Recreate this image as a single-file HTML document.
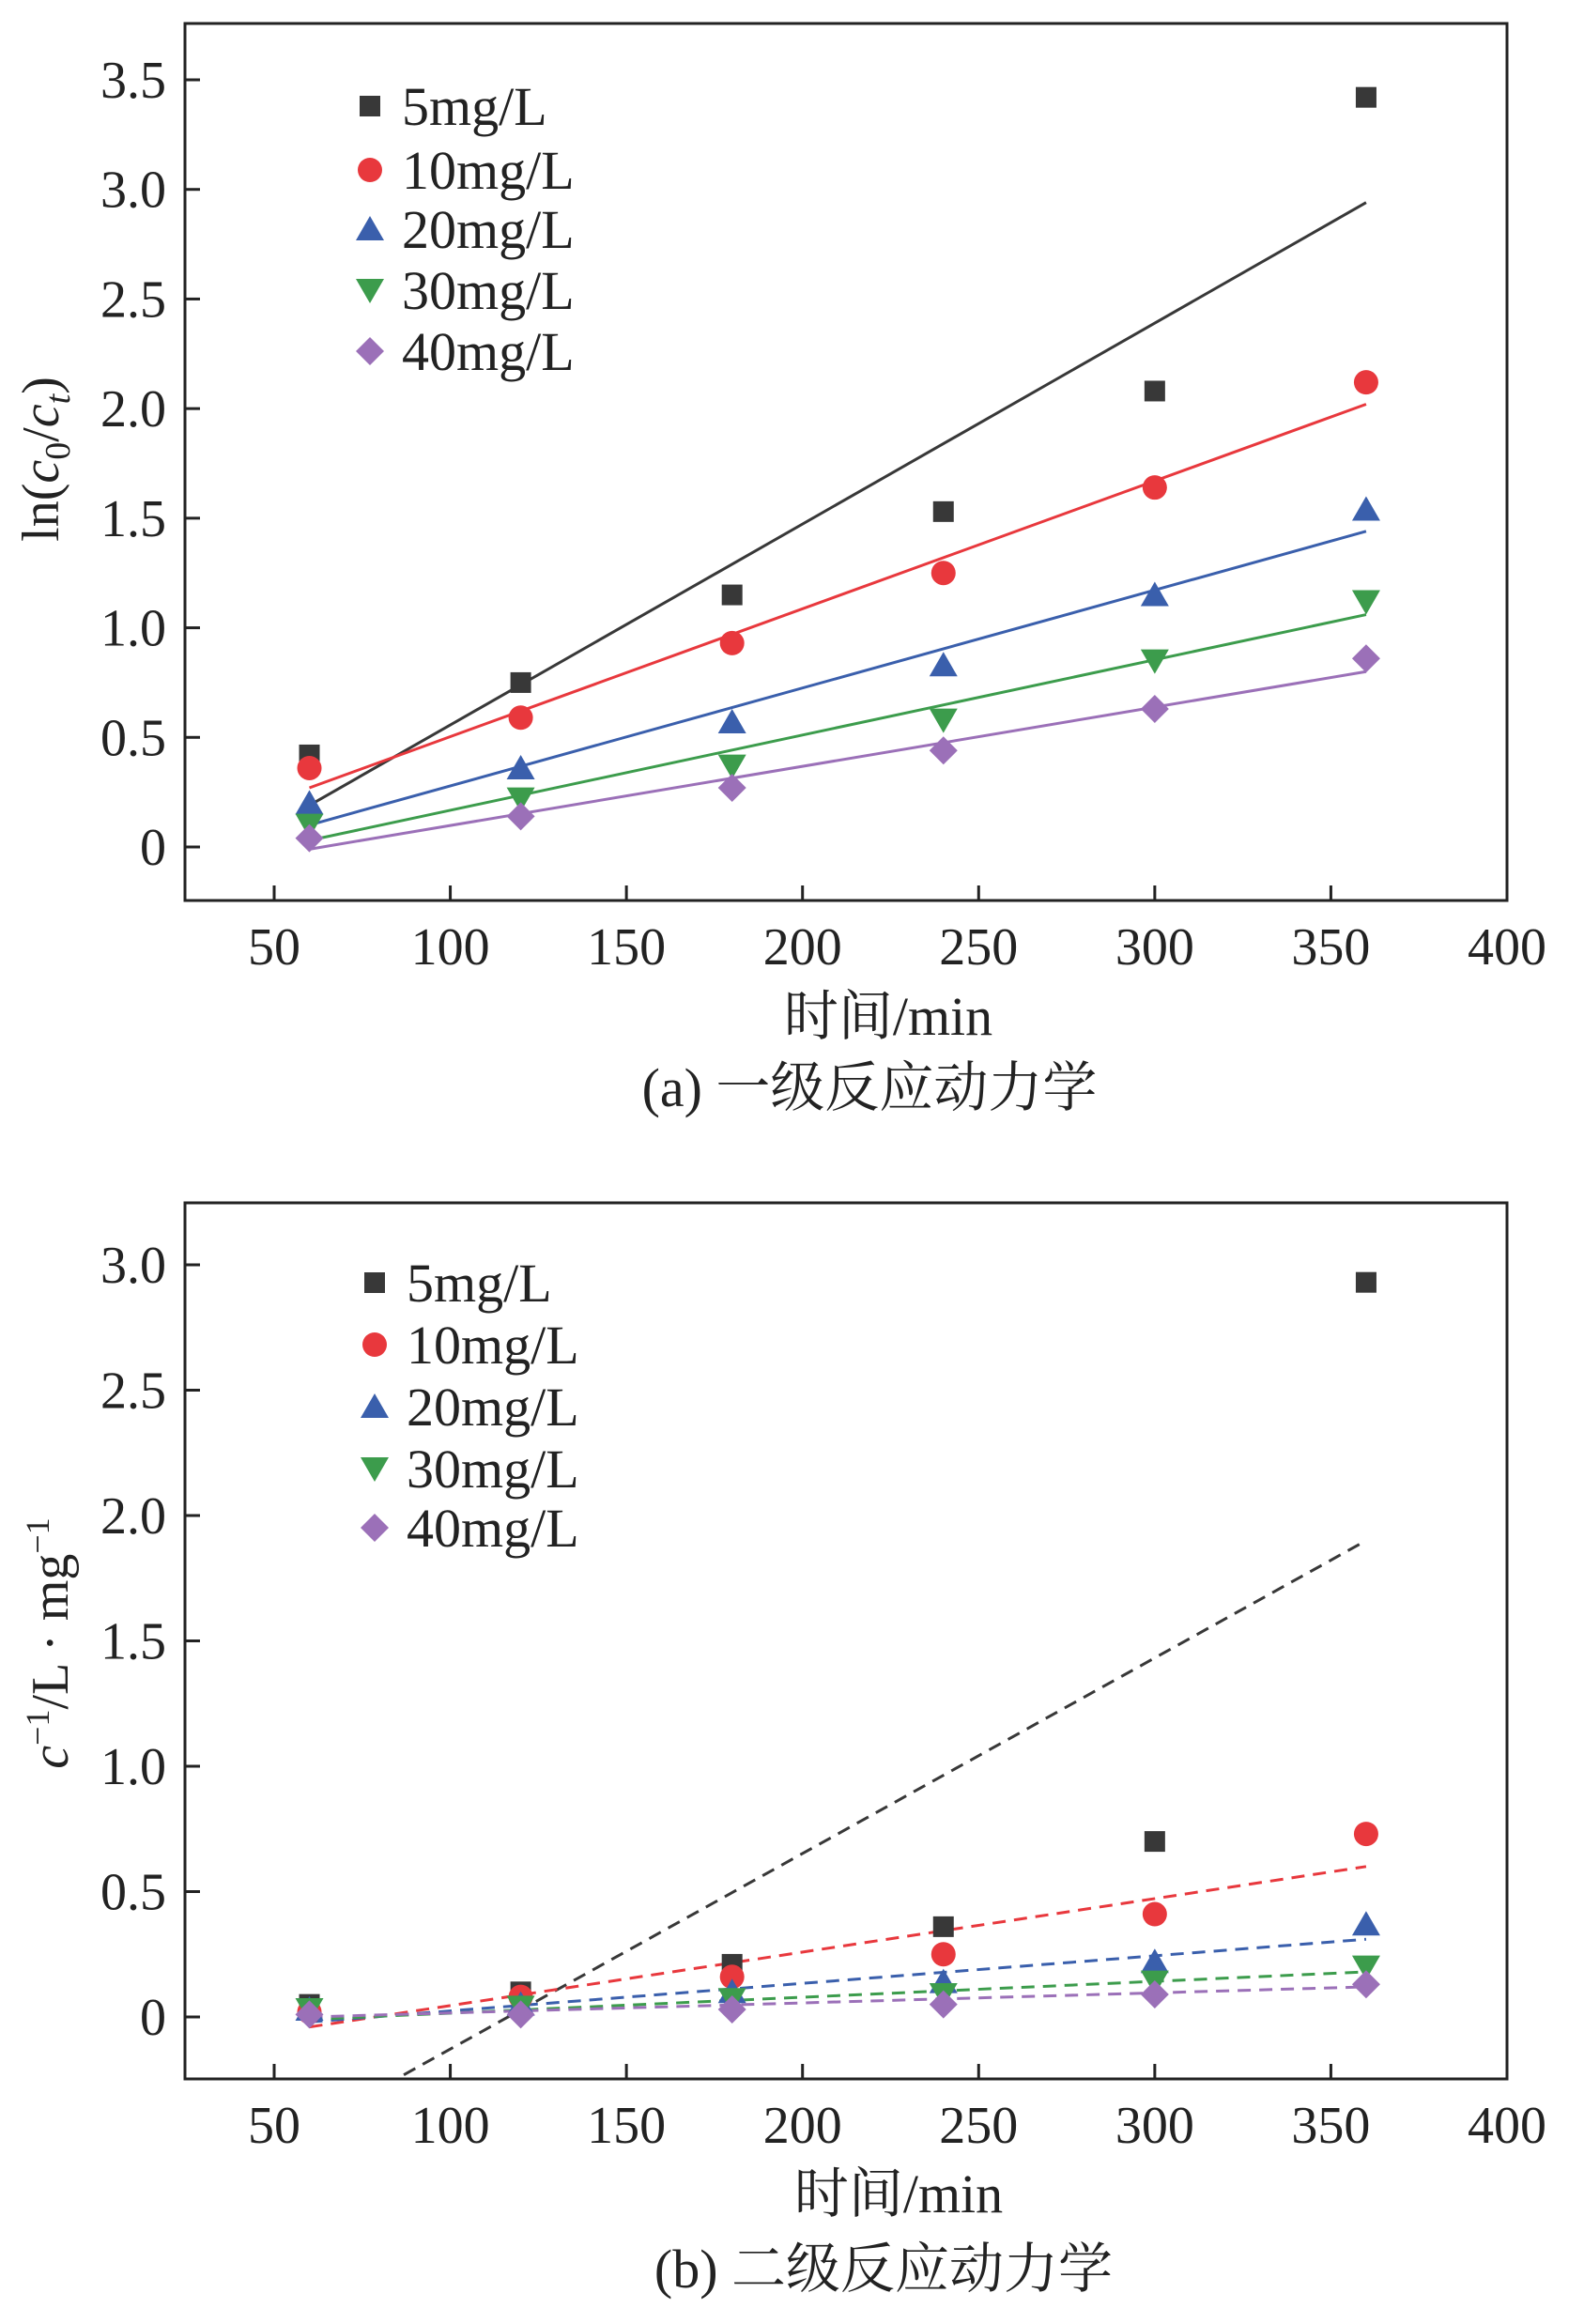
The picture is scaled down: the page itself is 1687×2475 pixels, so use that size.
<!DOCTYPE html>
<html><head><meta charset="utf-8"><style>
html,body{margin:0;padding:0;background:#fff;}
svg{display:block;font-family:"Liberation Serif","Noto Serif CJK SC",serif;}
</style></head><body>
<svg id="fig" width="1687" height="2475" viewBox="0 0 1687 2475" xmlns="http://www.w3.org/2000/svg"></svg>
<script>
const xTicks=[50,100,150,200,250,300,350,400];
const times=[60,120,180,240,300,360];
const seriesNames=["5mg/L","10mg/L","20mg/L","30mg/L","40mg/L"];
const colors=["#383838","#e8383d","#3a5fac","#3c9c4c","#9b70b8"];
const shapes=["square","circle","tri","tridown","diamond"];
// panel a
const aS5=[0.42,0.75,1.15,1.53,2.08,3.42];
const aS10=[0.36,0.59,0.93,1.25,1.64,2.12];
const aS20=[0.20,0.36,0.57,0.83,1.15,1.54];
const aS30=[0.10,0.22,0.37,0.58,0.85,1.12];
const aS40=[0.04,0.14,0.27,0.44,0.63,0.86];
const aFitStart=[0.19,0.27,0.10,0.03,-0.01];
const aFitEnd=[2.94,2.02,1.44,1.06,0.80];
const aYTicks=[0,0.5,1.0,1.5,2.0,2.5,3.0,3.5];
const aYLabels=["0","0.5","1.0","1.5","2.0","2.5","3.0","3.5"];
// panel b
const bS5=[0.05,0.10,0.21,0.36,0.70,2.93];
const bS10=[0.02,0.08,0.16,0.25,0.41,0.73];
const bS20=[0.03,0.05,0.10,0.14,0.22,0.37];
const bS30=[0.03,0.04,0.07,0.09,0.14,0.20];
const bS40=[0.01,0.01,0.03,0.05,0.09,0.13];
const bFitStart=[-0.44,-0.04,-0.02,-0.01,0.00];
const bFitEnd=[1.90,0.60,0.31,0.18,0.12];
const bYTicks=[0,0.5,1.0,1.5,2.0,2.5,3.0];
const bYLabels=["0","0.5","1.0","1.5","2.0","2.5","3.0"];

const NS="http://www.w3.org/2000/svg";
const svg=document.getElementById('fig');
function mk(tag,attrs,parent){const e=document.createElementNS(NS,tag);for(const k in attrs)e.setAttribute(k,attrs[k]);(parent||svg).appendChild(e);return e;}

function marker(g,shape,cx,cy,color){
  let e;
  if(shape==="square") e=mk('rect',{x:cx-11,y:cy-11,width:22,height:22,fill:color},g);
  else if(shape==="circle") e=mk('circle',{cx:cx,cy:cy,r:13,fill:color},g);
  else if(shape==="tri") e=mk('polygon',{points:`${cx},${cy-14} ${cx+15},${cy+12} ${cx-15},${cy+12}`,fill:color},g);
  else if(shape==="tridown") e=mk('polygon',{points:`${cx},${cy+14} ${cx+15},${cy-12} ${cx-15},${cy-12}`,fill:color},g);
  else e=mk('polygon',{points:`${cx},${cy-15} ${cx+15},${cy} ${cx},${cy+15} ${cx-15},${cy}`,fill:color},g);
  return e;
}

function panel(o){
  const g=mk('g',{});
  
  
  const L=197,R=1605,T=o.top,B=o.bottom;
  const xs=v=>L+(v-30)/(400-30)*(R-L)*1+0; // placeholder replaced below
  const X=v=>292+(v-50)*(1605-292)/350;
  const Y=v=>o.y0+(o.y1-o.y0)*(v/o.ymaxTick);
  const clipId='clip'+o.id;
  const cp=mk('clipPath',{id:clipId},g);
  mk('rect',{x:L,y:T,width:R-L,height:B-T},cp);
  // ticks
  xTicks.forEach(t=>{
    const tk=mk('line',{x1:X(t),x2:X(t),y1:B,y2:B-16,stroke:'#222','stroke-width':3},g);
    
    
    const tl=mk('text',{x:X(t),y:o.xLabY,'font-size':56,'text-anchor':'middle',fill:'#222'},g);
    tl.textContent=t;
    
    
  });
  o.yTicks.forEach((t,i)=>{
    mk('line',{x1:L,x2:L+16,y1:Y(t),y2:Y(t),stroke:'#222','stroke-width':3},g);
    const tl=mk('text',{x:177,y:Y(t)+19,'font-size':56,'text-anchor':'end',fill:'#222'},g);
    tl.textContent=o.yLabels[i];
    
    
  });
  // fit lines
  o.series.forEach((s,i)=>{
    const ln=mk('line',{x1:X(times[0]),y1:Y(o.fs[i]),x2:X(times[times.length-1]),y2:Y(o.fe[i]),stroke:colors[i],'stroke-width':3,'clip-path':`url(#${clipId})`},g);
    if(o.dashed) ln.setAttribute('stroke-dasharray','14 9');
    
    
  });
  // markers
  o.series.forEach((s,i)=>{
    s.forEach((v,j)=>{
      const m=marker(g,shapes[i],X(times[j]),Y(v),colors[i]);
      
      
    });
  });
  // frame
  const fr=mk('rect',{x:L,y:T,width:R-L,height:B-T,fill:'none',stroke:'#222','stroke-width':3},g);
  
  
  // legend
  seriesNames.forEach((n,i)=>{
    const ly=o.legY[i];
    const m=marker(g,shapes[i],o.legX,ly,colors[i]);
    
    
    const t=mk('text',{x:o.legX+34,y:ly+20,'font-size':58,fill:'#222'},g);
    t.textContent=n;
    
    
  });
  const xl=mk('text',{x:o.xTitleX,y:o.xTitleY,'font-size':58,'text-anchor':'middle',fill:'#222'},g);
  xl.textContent='时间/min';
  
  
  const cap=mk('text',{x:o.capX,y:o.capY,'font-size':58,'text-anchor':'middle',fill:'#222'},g);
  cap.textContent=o.caption;
  
  
  const yt=mk('text',{x:0,y:0,'font-size':56,'text-anchor':'middle',fill:'#222',transform:`translate(${o.yTitleX},${o.yTitleY}) rotate(-90)`},g);
  yt.innerHTML=o.yTitle;
  
  
}

panel({id:'a',name:'panel-a-first-order',top:25,bottom:959,y0:902,y1:85,ymaxTick:3.5,
  yTicks:aYTicks,yLabels:aYLabels,series:[aS5,aS10,aS20,aS30,aS40],fs:aFitStart,fe:aFitEnd,dashed:false,
  xLabY:1027,legX:394,legY:[113,181,244,309,374],xTitleX:946,xTitleY:1102,capX:926,capY:1178,caption:'(a) 一级反应动力学',
  yTitleX:62,yTitleY:489,yTitle:'ln(<tspan font-style="italic">c</tspan><tspan font-size="38" dy="12">0</tspan><tspan dy="-12">/</tspan><tspan font-style="italic">c</tspan><tspan font-size="38" font-style="italic" dy="12">t</tspan><tspan dy="-12">)</tspan>'});
panel({id:'b',name:'panel-b-second-order',top:1281,bottom:2214,y0:2148,y1:1347,ymaxTick:3.0,
  yTicks:bYTicks,yLabels:bYLabels,series:[bS5,bS10,bS20,bS30,bS40],fs:bFitStart,fe:bFitEnd,dashed:true,
  xLabY:2282,legX:399,legY:[1366,1432,1498,1564,1627],xTitleX:957,xTitleY:2356,capX:941,capY:2436,caption:'(b) 二级反应动力学',
  yTitleX:72,yTitleY:1750,yTitle:'<tspan font-style="italic">c</tspan><tspan font-size="36" dy="-20">−1</tspan><tspan dy="20">/L · mg</tspan><tspan font-size="36" dy="-20">−1</tspan>'});
</script>
</body></html>
